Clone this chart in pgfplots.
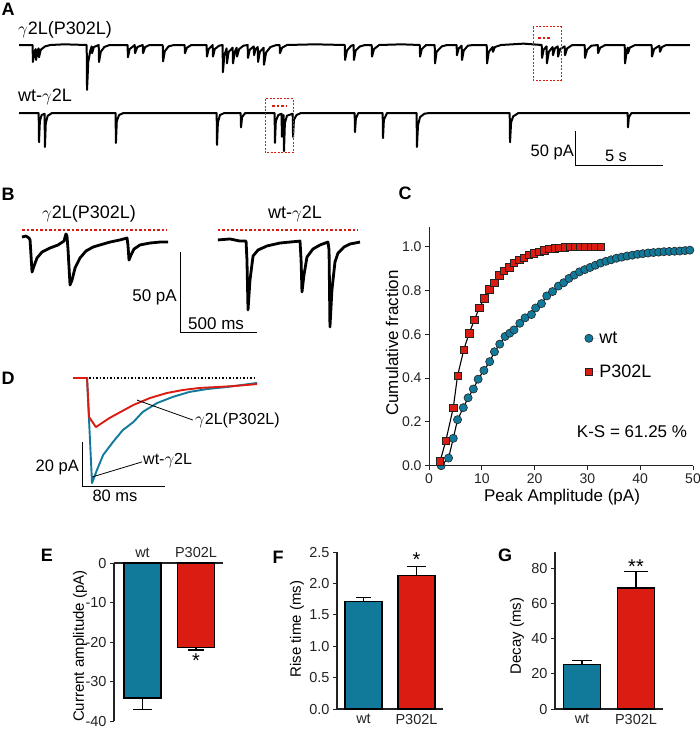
\documentclass[border=0pt]{standalone}
\usepackage{pgfplots}
\usepackage{pgfplotstable}
\pgfplotsset{compat=1.18}
\usepackage{fontspec}
\setmainfont{Liberation Sans}

\definecolor{wtblue}{RGB}{17,122,155}
\definecolor{mutred}{RGB}{218,28,18}
\definecolor{ink}{RGB}{35,35,35}

\newcommand{\fs}[1]{\fontsize{#1}{#1}\selectfont}
\newcommand{\gam}{$\gamma$}

% cumulative distributions of peak amplitude (pA, fraction)
\pgfplotstableread{
x y
2.3 0.00
3.7 0.035
4.6 0.125
5.4 0.21
6.5 0.265
7.4 0.31
8.4 0.35
9.3 0.395
10.4 0.435
11.5 0.475
12.4 0.52
13.4 0.555
14.4 0.59
15.3 0.605
16.1 0.62
17.2 0.65
18.2 0.675
19.4 0.69
20.2 0.72
21.3 0.74
22.3 0.775
23.4 0.795
24.5 0.82
25.5 0.835
26.5 0.855
27.5 0.87
28.5 0.885
29.5 0.895
30.5 0.905
31.5 0.915
32.5 0.925
33.5 0.933
34.5 0.94
35.5 0.947
36.5 0.952
37.5 0.957
38.5 0.961
39.5 0.965
40.5 0.968
41.5 0.971
42.5 0.973
43.5 0.975
44.5 0.977
45.5 0.978
46.5 0.979
47.5 0.98
48.5 0.982
49.4 0.984
}\wtcdf
\pgfplotstableread{
x y
2.1 0.02
3.2 0.115
4.6 0.265
5.4 0.41
6.6 0.53
7.6 0.605
8.6 0.665
9.5 0.72
10.5 0.765
11.4 0.805
12.4 0.835
13.3 0.87
14.2 0.89
15.2 0.905
16.1 0.925
17.1 0.94
18.0 0.95
18.9 0.962
19.9 0.97
20.9 0.976
21.8 0.984
22.8 0.99
23.8 0.993
24.7 0.995
25.7 0.997
26.7 0.998
27.6 0.999
28.6 1.0
29.6 1.0
30.6 1.0
31.5 1.0
32.5 1.0
}\mutcdf

\pgfplotsset{
  trace/.style={axis lines=none, clip=false, enlargelimits=false, xmin=0, ticks=none},
  bars/.style={scale only axis, clip=false, enlargelimits=false,
    xmin=0.5, xmax=2.5, xtick={1,2}, xticklabels={wt,P302L},
    axis x line*=bottom, axis y line*=left,
    axis line style={-, line width=1.1pt, ink},
    tick align=outside, major tick length=4pt,
    y tick style={line width=1pt, ink}, x tick style={draw=none},
    ticklabel style={font=\fs{14.5}, text=ink},
    xticklabel style={inner sep=1pt},
    /pgf/number format/assume math mode=true},
  barfill/.style={ybar, bar width=37pt, draw=black, line width=1.2pt, fill=#1},
  err/.style={black, line width=1.2pt},
  tr/.style={black, line width=2pt, line join=round},
}

\begin{document}
\begin{tikzpicture}
\useasboundingbox (0pt,0pt) rectangle (700pt,-730pt);

% ---------------- A: long recordings ----------------
\node[font=\fs{18}\bfseries, anchor=center] at (8pt,-9pt) {A};
\node[font=\fs{18}, anchor=west, inner sep=0pt] at (18pt,-30pt) {\gam2L(P302L)};
\node[font=\fs{18}, anchor=west, inner sep=0pt] at (18pt,-97pt) {wt-\gam2L};

% gamma2L(P302L), time in s, current in pA
\begin{axis}[trace, x=17.4pt, y=0.68pt, xmax=38.6, ymin=-80, ymax=30,
  at={(19pt,-99.4pt)}, anchor=south west]
\addplot[tr] coordinates {
 (0,0)(0.78,0)(0.80,-25)(0.88,-10)(0.96,-6)(0.98,-22)(1.05,-9)(1.13,-5)(1.15,-18)(1.25,-7)(1.5,-2)(1.8,0)
 (2.6,1)(3.89,0)(3.91,-66)(3.98,-25)(4.1,-8)(4.18,-2)(4.20,-12)(4.3,-3)(4.58,0)(4.60,-25)(4.7,-10)(4.9,-3)(5.2,0)
 (6.24,0)(6.26,-18)(6.36,-6)(6.65,0)(6.67,-12)(6.8,-3)(7.11,0)(7.13,-12)(7.25,-3)(7.5,0)
 (8.26,0)(8.28,-24)(8.38,-9)(8.6,-2)(8.9,0)
 (9.52,0)(9.54,-12)(9.65,-4)(9.9,0)
 (10.78,0)(10.80,-17)(10.9,-6)(11.13,0)(11.15,-17)(11.25,-6)(11.5,-1)
 (11.70,0)(11.72,-40)(11.8,-15)(11.93,-5)(11.95,-27)(12.05,-10)(12.28,-4)(12.30,-27)(12.4,-10)(12.51,-4)(12.53,-17)(12.65,-6)(12.9,-1)
 (13.14,0)(13.16,-19)(13.26,-7)(13.49,-2)(13.51,-15)(13.6,-6)(13.72,-3)(13.74,-25)(13.84,-10)(14.06,-4)(14.08,-29)(14.2,-11)(14.45,-3)(14.8,0)
 (14.98,0)(15.00,-12)(15.12,-4)(15.4,0)(17,1)
 (18.72,0)(18.74,-22)(18.85,-8)(19.1,-1)(19.23,0)(19.25,-22)(19.35,-8)(19.6,-2)(19.9,0)
 (20.27,0)(20.29,-17)(20.4,-6)(20.7,0)(22,1)
 (23.03,0)(23.05,-17)(23.15,-6)(23.4,0)(23.89,0)(23.91,-27)(24.0,-10)(24.3,-2)(24.6,0)
 (25.15,0)(25.17,-15)(25.27,-5)(25.44,-1)(25.46,-22)(25.56,-8)(25.8,-1)(26.1,0)
 (26.88,0)(26.90,-27)(27.0,-10)(27.22,-3)(27.24,-10)(27.35,-3)(27.7,0)(29,2)
 (30.04,0)(30.06,-19)(30.15,-7)(30.32,-2)(30.34,-27)(30.45,-10)(30.67,-3)(30.69,-15)(30.8,-5)(30.96,-2)(30.98,-17)(31.1,-6)(31.36,-2)(31.38,-15)(31.5,-5)(31.8,0)
 (32.51,0)(32.53,-19)(32.65,-7)(32.9,-1)(33.26,0)(33.28,-12)(33.4,-4)(33.7,0)
 (34.81,0)(34.83,-27)(34.92,-10)(34.98,-4)(35.00,-12)(35.1,-4)(35.4,0)
 (36.36,0)(36.38,-17)(36.5,-6)(36.8,-1)(36.84,-10)(36.95,-3)(37.2,0)(38.56,0)
};
% red box around the stretch shown in B
\draw[mutred, line width=1pt, dash pattern=on 2pt off 1.5pt] (axis cs:29.54,26.5) rectangle (axis cs:31.15,-51.5);
\draw[mutred, line width=2.5pt, dash pattern=on 2.5pt off 2pt] (axis cs:29.83,10.3) -- (axis cs:30.52,10.3);
\end{axis}

% wt-gamma2L
\begin{axis}[trace, x=17.4pt, y=0.68pt, xmax=38.6, ymin=-80, ymax=30,
  at={(19pt,-167.4pt)}, anchor=south west]
\addplot[tr] coordinates {
 (0,0)(1.13,0)(1.15,-43)(1.2,-12)(1.3,-3)(1.47,-1)(1.49,-50)(1.54,-15)(1.65,-4)(1.9,0)
 (5.55,0)(5.57,-44)(5.62,-12)(5.75,-3)(6.0,0)
 (11.36,0)(11.38,-47)(11.43,-14)(11.55,-3)(11.8,0)
 (12.74,0)(12.76,-21)(12.82,-6)(13.0,0)
 (14.69,0)(14.71,-44)(14.76,-12)(14.9,-3)(15.09,-1)(15.11,-35)(15.16,-10)(15.21,-3)(15.23,-56)(15.28,-15)(15.4,-4)(15.73,-1)(15.75,-35)(15.8,-10)(15.95,-3)(16.2,0)
 (19.29,0)(19.31,-28)(19.36,-8)(19.5,0)
 (20.90,0)(20.92,-37)(20.97,-10)(21.15,0)
 (22.85,0)(22.87,-50)(22.93,-18)(23.05,-6)(23.3,-1)(23.6,0)
 (28.20,0)(28.22,-43)(28.28,-14)(28.4,-5)(28.7,0)
 (34.98,0)(35.00,-21)(35.05,-6)(35.2,0)(38.56,0)
};
\draw[mutred, line width=1pt, dash pattern=on 2pt off 1.5pt] (axis cs:14.14,20.6) rectangle (axis cs:15.75,-58.8);
\draw[mutred, line width=2.5pt, dash pattern=on 2.5pt off 2pt] (axis cs:14.54,10.3) -- (axis cs:15.34,10.3);
% scale bar 50 pA / 5 s
\addplot[black, line width=1pt] coordinates {(32.01,-26.5)(32.01,-76.5)(37.01,-76.5)};
\end{axis}
\node[font=\fs{16.5}, anchor=east, inner sep=0pt] at (574pt,-152pt) {50 pA};
\node[font=\fs{16.5}, inner sep=0pt] at (616pt,-156pt) {5 s};

% ---------------- B: expanded traces ----------------
\node[font=\fs{18}\bfseries] at (8pt,-194pt) {B};
\node[font=\fs{18}, inner sep=0pt] at (89pt,-214pt) {\gam2L(P302L)};
\node[font=\fs{18}, inner sep=0pt] at (295pt,-214pt) {wt-\gam2L};
\begin{axis}[trace, x=0.152pt, y=1.62pt, xmax=2230, ymin=-60, ymax=10,
  at={(22pt,-335.2pt)}, anchor=south west]
\addplot[black, line width=2.8pt, line join=round] coordinates {
 (0,0.6)(26,1.2)(46,0)(53,-1.2)(66,-21)(79,-17.3)(99,-12.3)(132,-8.6)(184,-6.2)(237,-4.3)(276,-1.9)
 (289,2.5)(296,1.2)(303,-7.4)(316,-29)(329,-26)(349,-18.5)(382,-12.3)(421,-8)(467,-5.6)(513,-4.3)(579,-2.5)(645,-1.2)
 (691,0)(697,-4.3)(704,-13.6)(717,-10.5)(737,-6.8)(776,-4.3)(842,-3.1)(908,-2.5)(961,-2.5)
};
\addplot[black, line width=2.8pt, line join=round] coordinates {
 (1289,-1.2)(1368,-0.6)(1434,-1.9)(1474,-1.9)(1480,-13.6)(1487,-44.4)(1500,-25.9)(1520,-11.1)(1553,-7.4)(1612,-4.9)(1697,-3.1)(1829,-1.9)
 (1836,-13.6)(1842,-33.3)(1855,-22.8)(1875,-11.7)(1914,-6.8)(1961,-4.3)(2013,-2.5)
 (2020,-7.4)(2026,-54.9)(2039,-32.1)(2059,-14.8)(2079,-9.3)(2118,-5.6)(2158,-3.7)(2224,-2.5)
};
\draw[mutred, line width=2pt, dash pattern=on 2.5pt off 2pt] (axis cs:0,4.9) -- (axis cs:954,4.9);
\draw[mutred, line width=2pt, dash pattern=on 2.5pt off 2pt] (axis cs:1289,4.9) -- (axis cs:2211,4.9);
% scale bar 50 pA / 500 ms
\addplot[black, line width=1pt] coordinates {(1046,-8.6)(1046,-58.6)(1546,-58.6)};
\end{axis}
\node[font=\fs{17}, anchor=east, inner sep=0pt] at (177pt,-297pt) {50 pA};
\node[font=\fs{17}, anchor=west, inner sep=0pt] at (188pt,-324pt) {500 ms};

% ---------------- D: averaged events ----------------
\node[font=\fs{18}\bfseries] at (8pt,-378pt) {D};
\begin{axis}[trace, x=1.04pt, y=2.25pt, xmax=180, ymin=-50, ymax=5,
  at={(73pt,-490.5pt)}, anchor=south west]
\addplot[black, line width=1.5pt, dash pattern=on 1.5pt off 2pt] coordinates {(2,0)(177,0)};
\addplot[wtblue, line width=1.9pt, line join=round] coordinates {
 (0,0)(13.5,0)(18.3,-46.7)(23,-40.9)(29,-34.2)(38.5,-28.4)(48,-23.1)(58,-19.6)(67,-15.1)
 (81,-11.1)(96,-8.4)(112,-6.2)(129,-4.9)(148,-4)(177,-2.2)};
\addplot[mutred, line width=1.9pt, line join=round] coordinates {
 (0,0)(13.5,0)(15.4,-17.3)(22,-21.8)(35,-17.8)(58,-12)(74,-8.9)(90,-6.7)(106,-5.3)
 (122,-4.4)(139,-4)(154,-3.6)(177,-2.7)};
\draw[black, line width=0.8pt] (axis cs:61.5,-9.8) -- (axis cs:115.4,-18.7);
\draw[black, line width=0.8pt] (axis cs:18.3,-44) -- (axis cs:66.3,-37.3);
% scale bar 20 pA / 80 ms
\addplot[black, line width=1pt] coordinates {(8.7,-28.4)(8.7,-48.4)(88.7,-48.4)};
\end{axis}
\node[font=\fs{16}, anchor=west, inner sep=0pt] at (195pt,-420pt) {\gam2L(P302L)};
\node[font=\fs{16}, anchor=west, inner sep=0pt] at (143pt,-461pt) {wt-\gam2L};
\node[font=\fs{16.5}, anchor=east, inner sep=0pt] at (79pt,-467pt) {20 pA};
\node[font=\fs{16.5}, inner sep=0pt] at (115pt,-496pt) {80 ms};

% ---------------- C: cumulative distributions ----------------
\node[font=\fs{18}\bfseries] at (405pt,-193pt) {C};
\begin{axis}[scale only axis, width=264pt, height=239pt,
  at={(429pt,-465.7pt)}, anchor=south west,
  xmin=0, xmax=50, ymin=0, ymax=1.091, enlargelimits=false, clip=false,
  axis x line*=bottom, axis y line*=left,
  axis line style={-, line width=0.9pt, ink},
  xtick={0,10,20,30,40,50}, ytick={0,0.2,0.4,0.6,0.8,1},
  yticklabel style={/pgf/number format/.cd, fixed, fixed zerofill, precision=1},
  tick align=outside, major tick length=4pt, tick style={line width=0.9pt, ink},
  ticklabel style={font=\fs{14}, text=ink},
  /pgf/number format/assume math mode=true,
  legend image code/.code={\draw[#1] plot coordinates {(4.5pt,0pt)}; \path[draw=none] (0pt,0pt) -- (14pt,0pt);},
  legend style={at={(axis cs:29.4,0.617)}, anchor=north west, draw=none, fill=none,
    font=\fs{18}, row sep=18pt, inner sep=0pt, nodes={inner sep=1pt}},
  legend cell align=left,
]
\addplot[black, line width=1.1pt, forget plot] table {\wtcdf};
\addplot[black, line width=1.1pt, forget plot] table {\mutcdf};
\addplot[only marks, mark=*, mark size=4.1pt, fill=wtblue, draw=ink, line width=0.6pt] table {\wtcdf};
\addplot[only marks, mark=square*, mark size=3.7pt, fill=mutred, draw=ink, line width=0.6pt] table {\mutcdf};
\legend{wt, P302L}
\end{axis}
\node[font=\fs{17}, rotate=90] at (392pt,-343pt) {Cumulative fraction};
\node[font=\fs{17}] at (562pt,-497pt) {Peak Amplitude (pA)};
\node[font=\fs{17}] at (632pt,-432pt) {K-S = 61.25 \%};

% ---------------- E: current amplitude ----------------
\node[font=\fs{18}\bfseries] at (47pt,-555pt) {E};
\begin{axis}[bars, width=109pt, height=158pt, at={(114pt,-721pt)}, anchor=south west,
  xmin=0.467, xmax=2.505, ymin=-40, ymax=0, ytick={-40,-30,-20,-10,0},
  axis x line*=top, xticklabel pos=upper]
\addplot[barfill=wtblue] coordinates {(1,-34.2)};
\addplot[barfill=mutred] coordinates {(2,-21.3)};
\addplot[err] coordinates {(1,-34.2)(1,-37.1)};
\addplot[err] coordinates {(0.83,-37.1)(1.17,-37.1)};
\addplot[err] coordinates {(2,-21.3)(2,-22.0)};
\addplot[err] coordinates {(1.85,-22.0)(2.15,-22.0)};
\node[font=\fs{20}] at (axis cs:2,-24.6) {*};
\end{axis}
\node[font=\fs{15}, rotate=90] at (80pt,-646pt) {Current amplitude (pA)};

% ---------------- F: rise time ----------------
\node[font=\fs{18}\bfseries] at (278pt,-557pt) {F};
\begin{axis}[bars, width=106pt, height=157pt, at={(337pt,-709pt)}, anchor=south west,
  ymin=0, ymax=2.5, ytick={0,0.5,1,1.5,2,2.5},
  yticklabel style={/pgf/number format/.cd, fixed, fixed zerofill, precision=1}]
\addplot[barfill=wtblue] coordinates {(1,1.706)};
\addplot[barfill=mutred] coordinates {(2,2.13)};
\addplot[err] coordinates {(1,1.706)(1,1.78)};
\addplot[err] coordinates {(0.85,1.78)(1.15,1.78)};
\addplot[err] coordinates {(2,2.13)(2,2.27)};
\addplot[err] coordinates {(1.82,2.27)(2.18,2.27)};
\node[font=\fs{20}] at (axis cs:2,2.38) {*};
\end{axis}
\node[font=\fs{15}, rotate=90] at (297pt,-629pt) {Rise time (ms)};

% ---------------- G: decay ----------------
\node[font=\fs{18}\bfseries] at (505pt,-555pt) {G};
\begin{axis}[bars, width=108pt, height=157pt, at={(555pt,-709pt)}, anchor=south west,
  ymin=0, ymax=89.5, ytick={0,20,40,60,80}]
\addplot[barfill=wtblue] coordinates {(1,25.5)};
\addplot[barfill=mutred] coordinates {(2,69.0)};
\addplot[err] coordinates {(1,25.5)(1,27.8)};
\addplot[err] coordinates {(0.82,27.8)(1.18,27.8)};
\addplot[err] coordinates {(2,69.0)(2,78.3)};
\addplot[err] coordinates {(1.78,78.3)(2.22,78.3)};
\node[font=\fs{20}] at (axis cs:2,81.2) {**};
\end{axis}
\node[font=\fs{15}, rotate=90] at (517pt,-636pt) {Decay (ms)};
\end{tikzpicture}
\end{document}
